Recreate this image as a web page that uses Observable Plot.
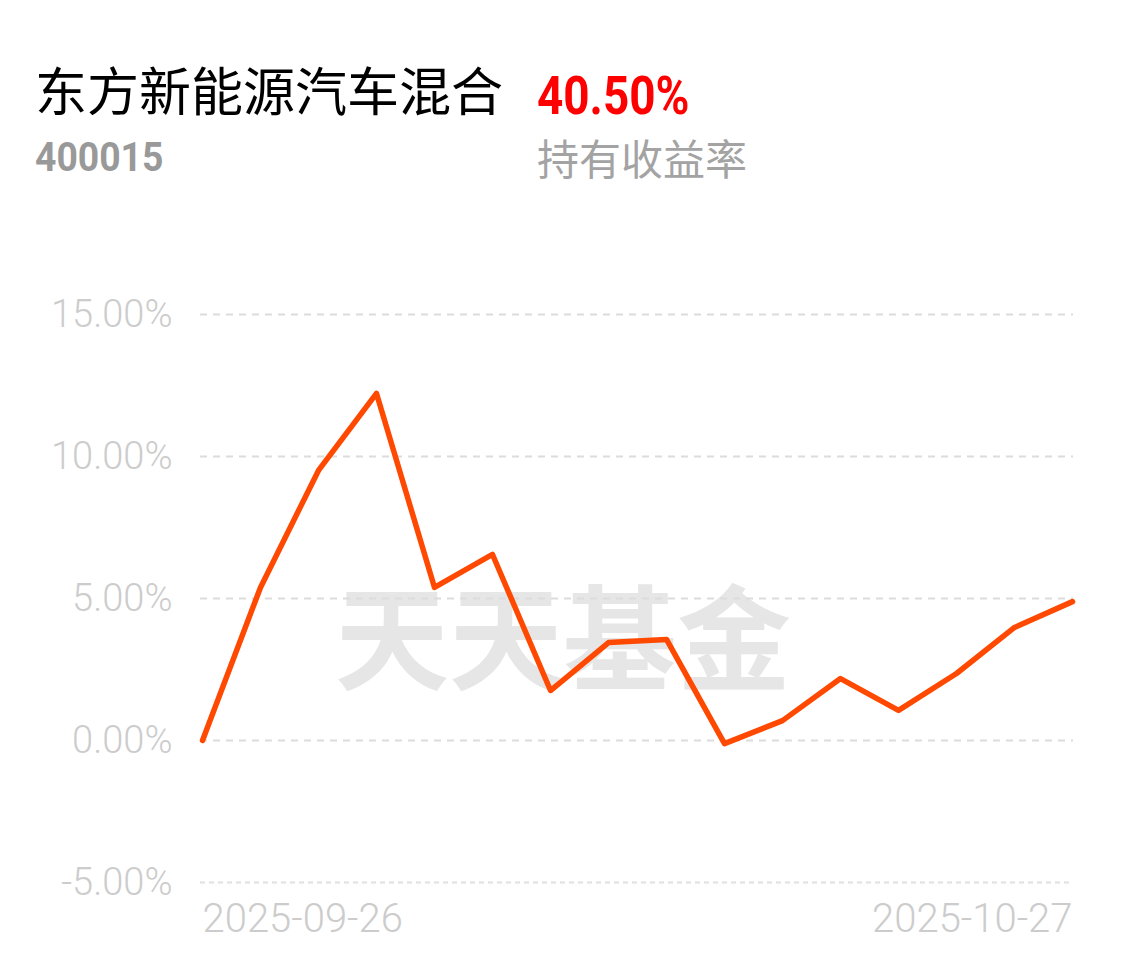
<!DOCTYPE html>
<html>
<head>
<meta charset="utf-8">
<script src="https://cdn.jsdelivr.net/npm/d3@7"></script>
<script src="https://cdn.jsdelivr.net/npm/@observablehq/plot@0.6"></script>
<style>
  html, body { margin: 0; padding: 0; background: #fff; }
  #wrap { position: relative; width: 1124px; height: 967px; overflow: hidden; }
  #header { position: relative; width: 1124px; height: 200px; }
  .t { position: absolute; white-space: nowrap; line-height: 1; }
  #name { left: 35px; top: 63px; font-family: "Noto Sans CJK SC", sans-serif; font-size: 52px; color: #000; }
  #ret { left: 537px; top: 70px; font-family: Roboto, sans-serif; font-weight: 700; font-size: 53px; color: #f00; transform: scaleX(0.865); transform-origin: left center; }
  #code { left: 35px; top: 137px; font-family: Roboto, sans-serif; font-weight: 700; font-size: 41px; color: #999; transform: scaleX(0.91); transform-origin: left center; }
  #lbl { left: 537px; top: 136px; font-family: "Noto Sans CJK SC", sans-serif; font-size: 42px; color: #a3a3a3; }
  #chart { position: absolute; left: 0; top: 200px; }
</style>
</head>
<body>
<div id="wrap">
  <div id="header">
    <div class="t" id="name">东方新能源汽车混合</div>
    <div class="t" id="ret">40.50%</div>
    <div class="t" id="code">400015</div>
    <div class="t" id="lbl">持有收益率</div>
  </div>
  <div id="chart"></div>
</div>
<script>
const dates = ["2025-09-26","2025-09-29","2025-09-30","2025-10-09","2025-10-10","2025-10-13","2025-10-14","2025-10-15","2025-10-16","2025-10-17","2025-10-20","2025-10-21","2025-10-22","2025-10-23","2025-10-24","2025-10-27"];
const returns = [0.00, 5.39, 9.51, 12.22, 5.39, 6.55, 1.76, 3.45, 3.56, -0.11, 0.70, 2.18, 1.06, 2.36, 3.98, 4.89];
const yTicks = [-5, 0, 5, 10, 15];
const watermark = "天天基金";

const data = dates.map((d, i) => ({date: d, value: returns[i]}));
const first = dates[0], last = dates[dates.length - 1];

const chart = Plot.plot({
  width: 1124,
  height: 767,
  marginLeft: 200,
  marginRight: 51,
  marginTop: 114,
  marginBottom: 85,
  style: {background: "transparent", overflow: "visible"},
  x: {type: "point", domain: dates, padding: 0, inset: 0, label: null},
  y: {domain: [-5, 15], ticks: yTicks, label: null},
  marks: [
    Plot.text([watermark], {
      text: d => d, frameAnchor: "middle", dx: -74, dy: 46,
      fontSize: 114, fontWeight: 700, fill: "#e6e6e6",
      fontFamily: "Noto Sans CJK SC"
    }),
    Plot.ruleY(yTicks.filter(t => t !== -5), {stroke: "#dcdcdc", strokeWidth: 2, strokeDasharray: "7,6"}),
    Plot.ruleY([-5], {stroke: "#e0e0e0", strokeWidth: 2, strokeDasharray: "5,4"}),
    Plot.axisY({
      ticks: yTicks, tickSize: 0, tickPadding: 28, label: null,
      tickFormat: d => d.toFixed(2) + "%",
      fontSize: 38, fill: "#cccccc", fontFamily: "Roboto", fontWeight: 300
    }),
    Plot.axisX({
      ticks: [first], tickSize: 0, tickPadding: 21, textAnchor: "start", label: null,
      fontSize: 40, fill: "#cccccc", fontFamily: "Roboto", fontWeight: 300
    }),
    Plot.axisX({
      ticks: [last], tickSize: 0, tickPadding: 21, textAnchor: "end", label: null,
      fontSize: 40, fill: "#cccccc", fontFamily: "Roboto", fontWeight: 300
    }),
    Plot.lineY(data, {
      x: "date", y: "value", stroke: "#ff4800", strokeWidth: 5.5,
      strokeLinejoin: "round", strokeLinecap: "round"
    })
  ]
});
document.getElementById("chart").appendChild(chart);
</script>
</body>
</html>
